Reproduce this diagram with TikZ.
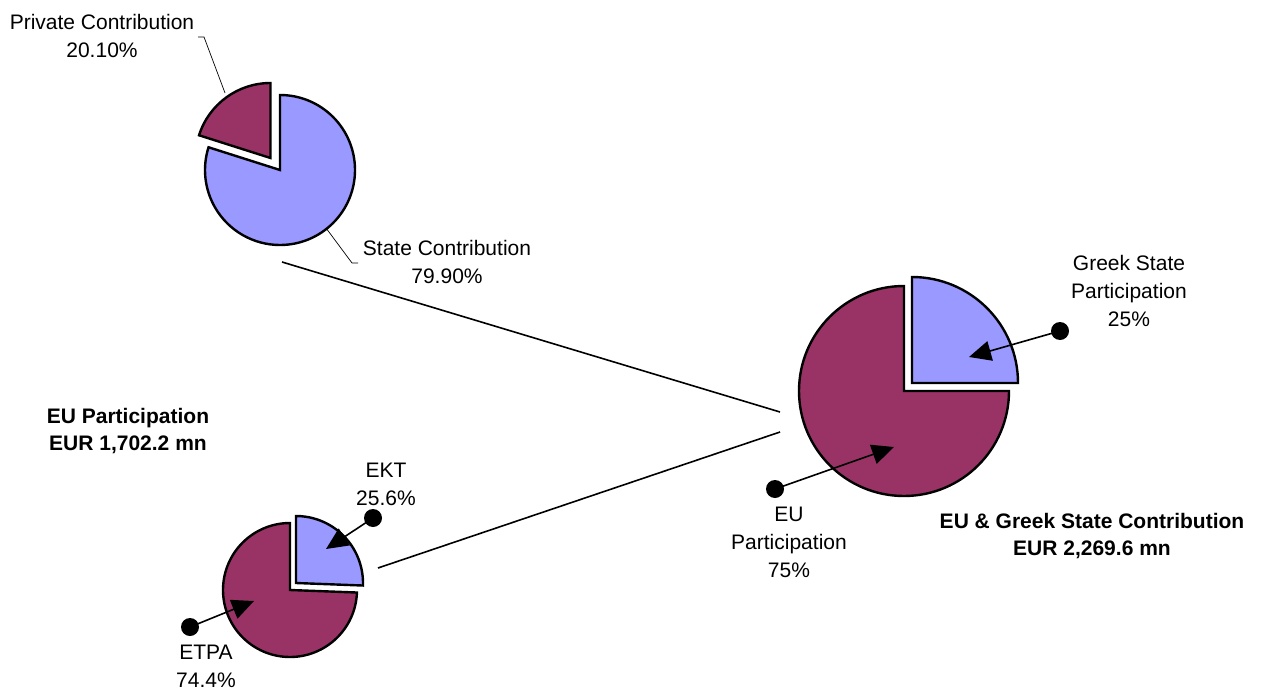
\documentclass[tikz,border=0pt]{standalone}
\usepackage{fontspec}
\setmainfont{Liberation Sans}
\usetikzlibrary{arrows.meta}
\definecolor{piepurple}{HTML}{993366}
\definecolor{pieblue}{HTML}{9999FF}
\begin{document}
\begin{tikzpicture}[x=1pt,y=1pt,
  slice/.style={draw=black,line width=2.4pt,line join=miter},
  conn/.style={draw=black,line width=1.6pt},
  leader/.style={draw=black,line width=0.7pt},
  ptr/.style={draw=black,line width=1.6pt,-{Triangle[length=22pt,width=20pt]}},
  dotmark/.style={circle,fill=black,inner sep=0pt,minimum size=18pt},
  lbl/.style={align=center,font=\fontsize{21}{28}\selectfont,inner sep=0pt},
  blbl/.style={align=center,font=\fontsize{21}{27}\selectfont\bfseries,inner sep=0pt}]
\useasboundingbox (0,0) rectangle (1279,-690);

% ---- top-left pie
\fill[pieblue,slice] (280,-170) -- ++(90:75) arc[start angle=90,end angle=-197.64,radius=75] -- cycle;
\fill[piepurple,slice] (270.5,-158) -- ++(90:75) arc[start angle=90,end angle=162.36,radius=75] -- cycle;

% ---- big pie
\fill[piepurple,slice] (904,-391) -- ++(90:105) arc[start angle=90,end angle=360,radius=105] -- cycle;
\fill[pieblue,slice] (912,-383) -- ++(0:106) arc[start angle=0,end angle=90,radius=106] -- cycle;

% ---- small pie
\fill[piepurple,slice] (290,-590) -- ++(90:67) arc[start angle=90,end angle=357.84,radius=67] -- cycle;
\fill[pieblue,slice] (296,-583) -- ++(-2.16:67) arc[start angle=-2.16,end angle=90,radius=67] -- cycle;

% ---- connectors between pies
\coordinate (c1a) at (282,-262);
\coordinate (c1b) at (780,-412);
\coordinate (c2a) at (378,-568);
\coordinate (c2b) at (780,-432);
\draw[conn] (c1a) -- (c1b);
\draw[conn] (c2a) -- (c2b);

% ---- leader lines
\coordinate (lp0) at (225,-93);
\coordinate (lp1) at (204,-37);
\coordinate (lp2) at (198,-37);
\draw[leader] (lp0) -- (lp1) -- (lp2);
\coordinate (ls0) at (326,-228);
\coordinate (ls1) at (352,-263);
\coordinate (ls2) at (358,-263);
\draw[leader] (ls0) -- (ls1) -- (ls2);

% ---- pointer dots and arrows
\node[dotmark] (dg) at (1060,-331) {};
\coordinate (tg) at (969,-357);
\draw[ptr] (dg.center) -- (tg);
\node[dotmark] (de) at (775,-489) {};
\coordinate (te) at (894,-447);
\draw[ptr] (de.center) -- (te);
\node[dotmark] (dk) at (373,-518) {};
\coordinate (tk) at (326,-549);
\draw[ptr] (dk.center) -- (tk);
\node[dotmark] (dt) at (190,-627) {};
\coordinate (tt) at (254,-601);
\draw[ptr] (dt.center) -- (tt);

% ---- labels
\node[lbl] (lpriv) at (102,-36) {Private Contribution\\20.10\%};
\node[lbl] (lstate) at (447,-262) {State Contribution\\79.90\%};
\node[lbl] (lgreek) at (1129,-291) {Greek State\\Participation\\25\%};
\node[lbl] (leu) at (789,-542) {EU\\Participation\\75\%};
\node[lbl] (lekt) at (386,-484) {EKT\\25.6\%};
\node[lbl] (letpa) at (206,-666) {ETPA\\74.4\%};
\node[blbl] (teu) at (128,-431) {EU Participation\\EUR 1,702.2 mn};
\node[blbl] (tall) at (1092,-536) {EU \& Greek State Contribution\\EUR 2,269.6 mn};
\end{tikzpicture}
\end{document}
